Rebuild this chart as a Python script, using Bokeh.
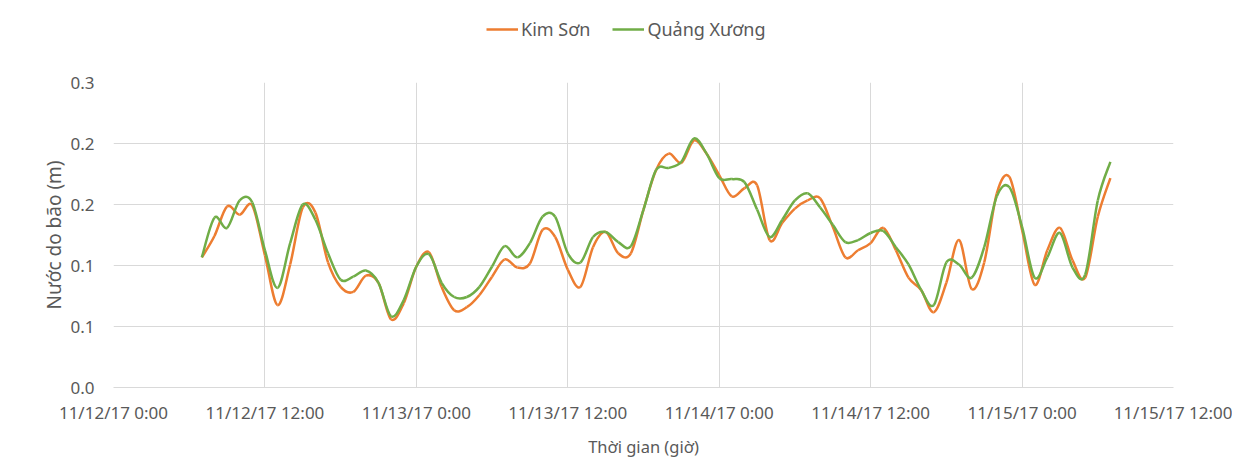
from bokeh.plotting import figure
from bokeh.layouts import column
from bokeh.models import FixedTicker, Legend, LegendItem, Range1d
from bokeh.embed import file_html
from bokeh.resources import INLINE

# hours since 11/12/17 0:00 (hourly readings)
hours = list(range(7, 80))

kim_son = [0.128, 0.149, 0.178, 0.170, 0.179, 0.130, 0.081, 0.121, 0.177, 0.172,
           0.123, 0.099, 0.094, 0.110, 0.103, 0.067, 0.083, 0.119, 0.133, 0.099,
           0.076, 0.079, 0.091, 0.109, 0.126, 0.118, 0.122, 0.155, 0.148, 0.116,
           0.099, 0.138, 0.153, 0.132, 0.132, 0.175, 0.214, 0.230, 0.221, 0.243,
           0.230, 0.209, 0.188, 0.196, 0.199, 0.145, 0.162, 0.176, 0.184, 0.186,
           0.158, 0.128, 0.135, 0.142, 0.157, 0.135, 0.108, 0.096, 0.074, 0.103,
           0.145, 0.097, 0.123, 0.191, 0.207, 0.155, 0.101, 0.135, 0.157, 0.125,
           0.108, 0.168, 0.206]

quang_xuong = [0.128, 0.167, 0.157, 0.184, 0.182, 0.135, 0.098, 0.142, 0.180, 0.165,
               0.132, 0.106, 0.109, 0.115, 0.103, 0.070, 0.086, 0.119, 0.131, 0.103,
               0.089, 0.089, 0.099, 0.119, 0.139, 0.128, 0.142, 0.168, 0.168, 0.132,
               0.123, 0.148, 0.153, 0.143, 0.139, 0.175, 0.214, 0.216, 0.222, 0.245,
               0.230, 0.206, 0.205, 0.202, 0.175, 0.148, 0.165, 0.184, 0.191, 0.177,
               0.160, 0.143, 0.145, 0.152, 0.154, 0.138, 0.121, 0.096, 0.081, 0.123,
               0.121, 0.108, 0.138, 0.188, 0.197, 0.158, 0.108, 0.128, 0.152, 0.118,
               0.111, 0.184, 0.222]

series_names = ["Kim Sơn", "Quảng Xương"]
series_colors = ["#ED7D31", "#70AD47"]

x_ticks = [0, 12, 24, 36, 48, 60, 72, 84]
x_tick_labels = ["11/12/17 0:00", "11/12/17 12:00", "11/13/17 0:00", "11/13/17 12:00",
                 "11/14/17 0:00", "11/14/17 12:00", "11/15/17 0:00", "11/15/17 12:00"]
y_ticks = [0.0, 0.06, 0.12, 0.18, 0.24, 0.3]
y_tick_labels = ["0.0", "0.1", "0.1", "0.2", "0.2", "0.3"]

TEXT = "#595959"
GRID = "#D9D9D9"
FONT = "Noto Sans"


def smooth_segments(xs, ys):
    """Cubic Bezier segments through the data points (Excel-style smoothed line)."""
    n = len(xs)
    out = {k: [] for k in ("x0", "y0", "x1", "y1", "cx0", "cy0", "cx1", "cy1")}
    for i in range(n - 1):
        a = i - 1 if i > 0 else i
        d = i + 2 if i + 2 < n else i + 1
        out["x0"].append(xs[i]); out["y0"].append(ys[i])
        out["x1"].append(xs[i + 1]); out["y1"].append(ys[i + 1])
        out["cx0"].append(xs[i] + (xs[i + 1] - xs[a]) / 6.0)
        out["cy0"].append(ys[i] + (ys[i + 1] - ys[a]) / 6.0)
        out["cx1"].append(xs[i + 1] - (xs[d] - xs[i]) / 6.0)
        out["cy1"].append(ys[i + 1] - (ys[d] - ys[i]) / 6.0)
    return out


W = 1232
TOP_H = 62
MAIN_TOP = 20

# --- legend strip (top); its frame is aligned with the main chart's frame ---
top = figure(width=W, height=TOP_H, output_backend="svg", toolbar_location=None,
             x_axis_type=None, y_axis_type=None,
             x_range=Range1d(0, 84), y_range=Range1d(10, 11),
             min_border_left=0, min_border_right=0, min_border_top=0, min_border_bottom=0)
top.outline_line_color = None
top.xgrid.visible = False
top.ygrid.visible = False
items = []
for name, color, vals in zip(series_names, series_colors, [kim_son, quang_xuong]):
    r = top.line(hours, vals, line_color=color, line_width=2.5)  # outside the strip's range
    items.append(LegendItem(label=name, renderers=[r]))
legend = Legend(items=items, orientation="horizontal", location=(373, TOP_H - 41),
                label_text_font=FONT, label_text_font_size="18px", label_text_color=TEXT,
                glyph_width=32, glyph_height=20, label_height=20, label_standoff=3, spacing=22,
                padding=0, margin=0, border_line_color=None, background_fill_alpha=0)
top.add_layout(legend, "center")

# --- main chart ---
p = figure(width=W, height=460 - TOP_H, output_backend="svg", toolbar_location=None,
           x_range=Range1d(0, 84), y_range=Range1d(0, 0.3),
           min_border_left=113, min_border_right=59, min_border_top=MAIN_TOP,
           min_border_bottom=60)
p.outline_line_color = None

for name, color, vals in zip(series_names, series_colors, [kim_son, quang_xuong]):
    seg = smooth_segments(hours, vals)
    p.bezier(x0=seg["x0"], y0=seg["y0"], x1=seg["x1"], y1=seg["y1"],
             cx0=seg["cx0"], cy0=seg["cy0"], cx1=seg["cx1"], cy1=seg["cy1"],
             line_color=color, line_width=2.5)

p.xaxis.ticker = FixedTicker(ticks=x_ticks)
p.xaxis.major_label_overrides = {t: l for t, l in zip(x_ticks, x_tick_labels)}
p.yaxis.ticker = FixedTicker(ticks=y_ticks)
p.yaxis.major_label_overrides = {t: l for t, l in zip(y_ticks, y_tick_labels)}
p.xgrid.ticker = FixedTicker(ticks=x_ticks)
p.ygrid.ticker = FixedTicker(ticks=y_ticks)
p.xgrid.grid_line_color = GRID
p.ygrid.grid_line_color = GRID

for ax in (p.xaxis[0], p.yaxis[0]):
    ax.major_tick_line_color = None
    ax.minor_tick_line_color = None
    ax.major_label_text_font = FONT
    ax.major_label_text_font_size = "17px"
    ax.major_label_text_color = TEXT
    ax.axis_label_text_font = FONT
    ax.axis_label_text_font_style = "normal"
    ax.axis_label_text_color = TEXT

p.xaxis.axis_label_text_font_size = "16.5px"
p.yaxis.axis_label_text_font_size = "19px"
p.xaxis.axis_line_color = GRID
p.yaxis.axis_line_color = None
p.xaxis.axis_label = "Thời gian (giờ)"
p.yaxis.axis_label = "Nước do bão (m)"
p.xaxis.major_label_standoff = 7
p.xaxis.axis_label_standoff = 8
p.yaxis.major_label_standoff = 13
p.yaxis.axis_label_standoff = 0

layout = column(top, p, spacing=0)
open("out.html", "w").write(file_html(layout, INLINE))
